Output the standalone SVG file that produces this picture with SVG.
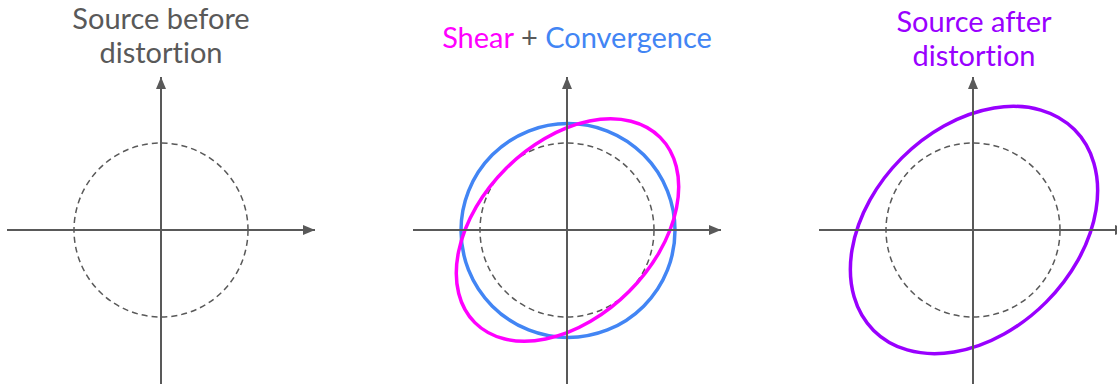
<svg xmlns="http://www.w3.org/2000/svg" width="1117" height="384" viewBox="0 0 1117 384">
<style>
.axis{stroke:#595959;stroke-width:2;fill:none}
.dash{stroke:#595959;stroke-width:1.5;fill:none;stroke-dasharray:6 4}
.t{font-family:Lato,"Open Sans",sans-serif;font-size:29px;text-anchor:middle;font-variant-ligatures:none}
.curve{fill:none;stroke-width:3.5}
</style>
<defs>
<marker id="ah" viewBox="0 0 12 10" refX="12" refY="5" markerWidth="12" markerHeight="10" markerUnits="userSpaceOnUse" orient="auto">
<path d="M0,0 L12,5 L0,10 z" fill="#595959"/>
</marker>
</defs>
<rect width="1117" height="384" fill="#ffffff"/>
<g id="panel-before">
<text class="t" x="161" y="29" fill="#595959">Source before</text>
<text class="t" x="161" y="63" fill="#595959">distortion</text>
<circle class="dash" cx="161" cy="230" r="87"/>
</g>
<g id="panel-middle">
<text class="t" x="577" y="48"><tspan fill="#ff00ff">Shear</tspan><tspan fill="#595959"> + </tspan><tspan fill="#4285f4">Convergence</tspan></text>
<circle class="dash" cx="567" cy="230" r="87"/>
<circle class="curve" cx="568" cy="230.5" r="107" stroke="#4285f4"/>
<ellipse class="curve" cx="567.5" cy="230" rx="131" ry="87" stroke="#ff00ff" transform="rotate(-45 567.5 230)"/>
</g>
<g id="panel-after">
<text class="t" x="974" y="32" fill="#9900ff">Source after</text>
<text class="t" x="974" y="66" fill="#9900ff">distortion</text>
<circle class="dash" cx="973" cy="230" r="87"/>
<ellipse class="curve" cx="974" cy="230" rx="142" ry="102" stroke="#9900ff" transform="rotate(-45 974 230)"/>
</g>
<g id="connectors">
<line class="axis" x1="161" y1="384" x2="161" y2="77" marker-end="url(#ah)"/>
<line class="axis" x1="7" y1="230" x2="315" y2="230" marker-end="url(#ah)"/>
<line class="axis" x1="567" y1="384" x2="567" y2="77" marker-end="url(#ah)"/>
<line class="axis" x1="413" y1="230" x2="721" y2="230" marker-end="url(#ah)"/>
<line class="axis" x1="973" y1="384" x2="973" y2="77" marker-end="url(#ah)"/>
<line class="axis" x1="819" y1="230" x2="1127" y2="230" marker-end="url(#ah)"/>
</g>
</svg>
